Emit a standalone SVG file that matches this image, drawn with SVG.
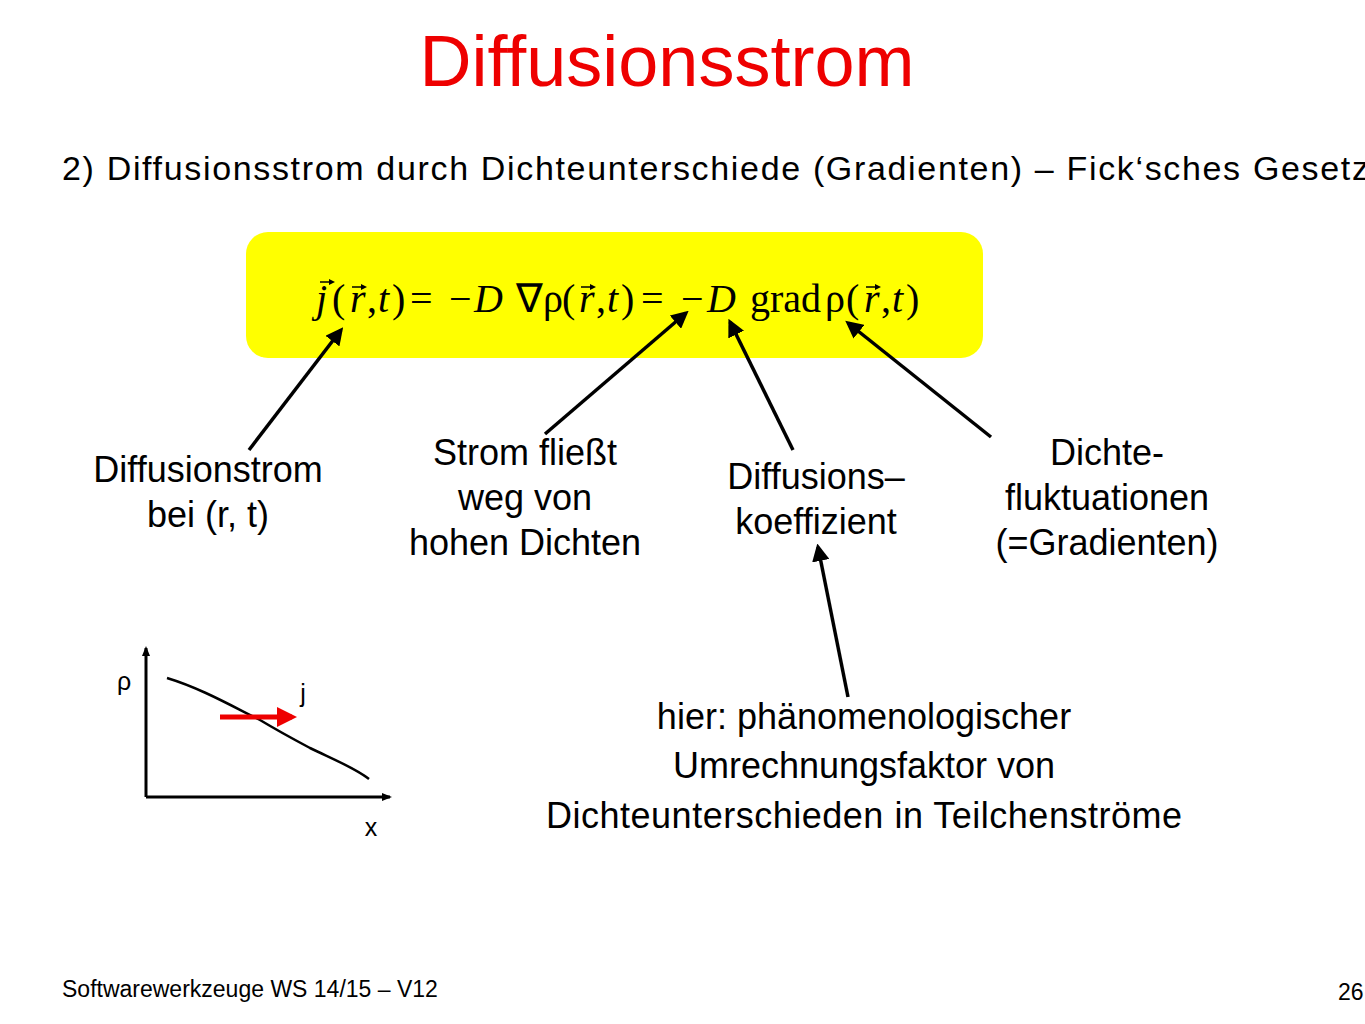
<svg xmlns="http://www.w3.org/2000/svg" width="1365" height="1024" viewBox="0 0 1365 1024">
<style>
.s{font-family:"Liberation Sans",Arial,sans-serif;fill:#000}
.m{font-family:"Liberation Serif","Times New Roman",serif;font-size:40px;fill:#000}
.i{font-style:italic}
.c{stroke:#000;stroke-width:3.5;fill:none}
</style>
<defs>
<marker id="ah" markerWidth="5" markerHeight="5" refX="4" refY="2.5" orient="auto" markerUnits="strokeWidth"><path d="M0,0 L5,2.5 L0,5 z" fill="#000"/></marker>
<marker id="ax" markerWidth="10" markerHeight="8" refX="8" refY="4" orient="auto" markerUnits="userSpaceOnUse"><path d="M0,0 L10,4 L0,8 z" fill="#000"/></marker>
<marker id="rh" markerWidth="4" markerHeight="4" refX="3" refY="2" orient="auto" markerUnits="strokeWidth"><path d="M0,0 L4,2 L0,4 z" fill="#e00"/></marker>
<g id="vec"><path d="M0 0 L13 0" stroke="#000" stroke-width="1.5"/><path d="M9 -3 L15 0 L9 3 z" fill="#000"/></g>
</defs>
<text x="667" y="86" text-anchor="middle" class="s" font-size="72" style="fill:#e00">Diffusionsstrom</text>
<text x="62" y="180" class="s" font-size="34" textLength="1318" lengthAdjust="spacing">2) Diffusionsstrom durch Dichteunterschiede (Gradienten) – Fick‘sches Gesetz:</text>
<g id="formula">
<rect x="246" y="232" width="737" height="126" rx="22" fill="#ffff00"/>
<text class="m" y="312"><tspan x="316" class="i">j</tspan><tspan x="332">(</tspan><tspan x="350" class="i">r</tspan><tspan x="367">,</tspan><tspan x="378" class="i">t</tspan><tspan x="392">)</tspan><tspan x="410">=</tspan><tspan x="449">−</tspan><tspan x="474" class="i">D</tspan><tspan x="516">∇ρ</tspan><tspan x="562">(</tspan><tspan x="579" class="i">r</tspan><tspan x="596">,</tspan><tspan x="607" class="i">t</tspan><tspan x="621">)</tspan><tspan x="641">=</tspan><tspan x="681">−</tspan><tspan x="707" class="i">D</tspan><tspan x="750">grad</tspan><tspan x="825">ρ</tspan><tspan x="846">(</tspan><tspan x="864" class="i">r</tspan><tspan x="881">,</tspan><tspan x="892" class="i">t</tspan><tspan x="906">)</tspan></text>
<use href="#vec" x="320" y="282"/>
<use href="#vec" x="352" y="287"/>
<use href="#vec" x="581" y="287"/>
<use href="#vec" x="866" y="287"/>
</g>
<g id="connectors">
<line class="c" marker-end="url(#ah)" x1="249" y1="450" x2="341" y2="330"/>
<line class="c" marker-end="url(#ah)" x1="545" y1="434" x2="686" y2="313"/>
<line class="c" marker-end="url(#ah)" x1="793" y1="450" x2="730" y2="322"/>
<line class="c" marker-end="url(#ah)" x1="991" y1="437" x2="848" y2="323"/>
<line class="c" marker-end="url(#ah)" x1="848" y1="697" x2="818" y2="547"/>
</g>
<g id="n1" class="s" font-size="36" text-anchor="middle"><text x="208" y="482">Diffusionstrom</text><text x="208" y="527">bei (r, t)</text></g>
<g id="n2" class="s" font-size="36" text-anchor="middle"><text x="525" y="465">Strom fließt</text><text x="525" y="510">weg von</text><text x="525" y="555">hohen Dichten</text></g>
<g id="n3" class="s" font-size="36" text-anchor="middle"><text x="816" y="489">Diffusions–</text><text x="816" y="534">koeffizient</text></g>
<g id="n4" class="s" font-size="36" text-anchor="middle"><text x="1107" y="465">Dichte-</text><text x="1107" y="510">fluktuationen</text><text x="1107" y="555">(=Gradienten)</text></g>
<g id="n5" class="s" font-size="36" text-anchor="middle"><text x="864" y="729">hier: phänomenologischer</text><text x="864" y="778">Umrechnungsfaktor von</text><text x="864" y="828" textLength="636" lengthAdjust="spacing">Dichteunterschieden in Teilchenströme</text></g>
<g id="plot">
<path d="M146 797 L146 648" stroke="#000" stroke-width="3" marker-end="url(#ax)"/>
<path d="M146 797 L390 797" stroke="#000" stroke-width="3" marker-end="url(#ax)"/>
<path d="M167 678 C200 688 230 705 260 720 C280 732 295 740 310 748 C335 760 355 768 369 779" stroke="#000" stroke-width="2.5" fill="none"/>
<line x1="220" y1="717" x2="292" y2="717" stroke="#e00" stroke-width="5" marker-end="url(#rh)"/>
<text x="124" y="690" class="s" font-size="25" text-anchor="middle">ρ</text>
<text x="303" y="702" class="s" font-size="25" text-anchor="middle">j</text>
<text x="371" y="836" class="s" font-size="25" text-anchor="middle">x</text>
</g>
<text x="62" y="997" class="s" font-size="23">Softwarewerkzeuge WS 14/15 –  V12</text>
<text x="1338" y="1000" class="s" font-size="23">26</text>
</svg>
